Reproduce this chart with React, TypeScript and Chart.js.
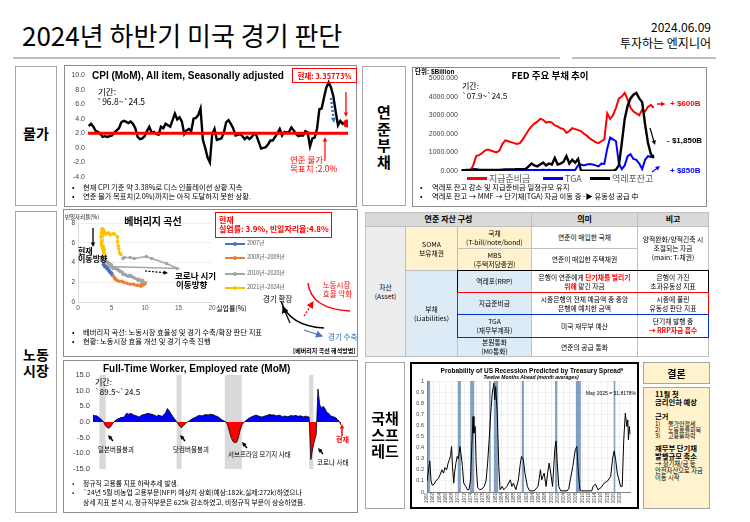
import React, { useEffect, useRef } from "react";
import { Chart, registerables } from "chart.js";

Chart.register(...registerables);

const KR = "'Noto Sans CJK KR', 'Noto Sans', sans-serif";
const AR = "'Liberation Sans', 'Noto Sans CJK KR', sans-serif";

// ---------------- DATA ----------------
// CPI YoY (%), quarterly from 1996 Q3
const cpiStartYear = 1996.625;
const cpiStep = 0.25;
const cpiValues = [
  3.0, 3.3,
  2.9, 2.3, 2.2, 1.9,
  1.5, 1.6, 1.5, 1.6,
  1.7, 2.1, 2.4, 2.7,
  3.5, 3.7, 3.6, 3.4,
  3.6, 3.3, 2.7, 1.5,
  1.2, 1.3, 1.6, 2.3,
  2.9, 2.1, 2.2, 1.9,
  1.8, 2.9, 2.7, 3.3,
  3.1, 2.9, 3.8, 4.7,
  3.9, 4.2, 3.6, 1.9,
  2.4, 2.6, 2.3, 4.0,
  4.1, 4.5, 5.4, 1.1,
  0.0, -1.3, -2.0, 1.8,
  2.6, 1.1, 1.2, 1.3,
  2.1, 3.5, 3.8, 3.3,
  2.7, 1.7, 1.8, 1.9,
  1.6, 1.2, 1.5, 1.2,
  1.5, 2.0, 1.7, 0.8,
  -0.1, 0.0, 0.1, 0.5,
  1.0, 1.0, 1.5, 2.0,
  2.6, 1.7, 2.2, 2.1,
  2.2, 2.8, 2.4, 1.9,
  1.6, 1.7, 1.7, 2.3,
  2.1, 0.2, 1.3, 1.4,
  2.6, 5.3, 5.4, 6.9,
  8.3, 9.0, 8.3, 7.1,
  5.0, 3.1, 3.7, 3.3,
  3.5, 3.36,
];
const cpiTarget = 2.0;

// FED liabilities ($B), quarterly from 2007 Q4
const fedStartYear = 2007.75;
const fedStep = 0.25;
const fedReserves = [
  15,
  15, 15, 15, 300,
  800, 850, 950, 1100,
  1150, 1100, 1050, 1000,
  1100, 1450, 1650, 1600,
  1550, 1500, 1450, 1500,
  1700, 1950, 2200, 2400,
  2550, 2650, 2800, 2750,
  2600, 2650, 2600, 2450,
  2400, 2300, 2250, 2050,
  2150, 2300, 2250, 2200,
  2150, 2000, 1900, 1750,
  1650, 1550, 1500, 1600,
  1700, 3100, 2800, 3000,
  3400, 3900, 4000, 4200,
  3850, 3400, 3200, 3100,
  3000, 3300, 3200, 3450,
  3550, 3400,
];
const fedTGA = [
  5,
  5, 5, 5, 100,
  100, 60, 40, 30,
  50, 40, 40, 50,
  50, 60, 40, 60,
  50, 50, 60, 50,
  40, 50, 60, 60,
  50, 60, 50, 70,
  60, 70, 60, 60,
  50, 60, 50, 60,
  50, 60, 60, 300,
  350, 300, 350, 380,
  350, 300, 250, 400,
  380, 1200, 1800, 1700,
  1600, 400, 100, 300,
  800, 900, 650, 600,
  400, 100, 600, 800,
  750, 850,
];
const fedRRP = [
  40,
  40, 50, 60, 80,
  70, 60, 60, 60,
  60, 60, 60, 60,
  60, 70, 80, 90,
  90, 90, 100, 100,
  100, 110, 250, 400,
  300, 250, 350, 450,
  300, 400, 350, 700,
  350, 400, 500, 800,
  400, 600, 450, 650,
  10, 10, 10, 10,
  10, 10, 10, 10,
  10, 10, 10, 10,
  80, 300, 1500, 2800,
  3500, 3900, 4100, 4200,
  3900, 3700, 2500, 1500,
  900, 700,
];

// Beveridge curve (unemployment %, job openings %)
const bev2007X = [3.8, 3.9, 4.0, 4.1, 4.2, 4.3, 4.4, 4.5, 4.6, 4.7, 4.8, 5.0];
const bev2007Y = [3.8, 3.7, 3.6, 3.6, 3.5, 3.4, 3.4, 3.3, 3.2, 3.1, 3.0, 2.9];
const bev0809X = [4.9, 5.0, 5.1, 5.3, 5.5, 5.6, 5.8, 6.1, 6.5, 6.8, 7.3, 7.8, 8.3, 8.7, 9.0, 9.4, 9.5, 9.5, 9.6, 9.8, 10.0, 9.9, 9.7, 9.8];
const bev0809Y = [3.0, 2.9, 2.7, 2.6, 2.4, 2.3, 2.2, 2.1, 2.1, 2.0, 1.9, 1.8, 1.8, 1.7, 1.7, 1.6, 1.7, 1.8, 1.7, 1.8, 1.9, 1.8, 1.9, 2.0];
const bev1020X = [9.8, 9.6, 9.5, 9.1, 9.0, 8.9, 8.5, 8.2, 8.0, 7.9, 7.7, 7.5, 7.2, 7.0, 6.7, 6.6, 6.3, 6.1, 5.9, 5.6, 5.4, 5.2, 5.0, 5.0, 4.9, 4.9, 4.7, 4.6, 4.4, 4.3, 4.1, 4.0, 3.9, 3.8, 3.7, 3.6, 3.6, 3.5, 3.5, 4.4, 14.8, 13.2, 11.0, 10.2, 8.4, 7.8, 6.9, 6.7];
const bev1020Y = [2.0, 2.2, 2.1, 2.3, 2.2, 2.3, 2.4, 2.5, 2.6, 2.6, 2.7, 2.6, 2.7, 2.8, 2.8, 3.0, 3.1, 3.2, 3.3, 3.4, 3.5, 3.4, 3.6, 3.7, 3.6, 3.8, 3.7, 3.9, 4.0, 4.1, 4.2, 4.3, 4.4, 4.5, 4.4, 4.5, 4.6, 4.4, 4.2, 3.6, 3.4, 3.9, 4.4, 4.6, 4.4, 4.5, 4.5, 4.4];
const bev2124X = [6.4, 6.2, 6.1, 6.0, 5.9, 5.9, 5.4, 5.2, 4.8, 4.6, 4.2, 3.9, 4.0, 3.8, 3.6, 3.6, 3.7, 3.5, 3.6, 3.4, 3.5, 3.6, 3.5, 3.7, 3.6, 3.5, 3.8, 3.8, 3.7, 3.9, 3.9, 3.8, 3.9, 4.0];
const bev2124Y = [4.8, 5.0, 5.4, 5.7, 6.1, 6.6, 6.9, 6.9, 6.8, 7.0, 6.9, 7.1, 7.0, 7.3, 7.4, 7.0, 6.8, 7.0, 6.7, 6.6, 6.1, 6.2, 6.0, 5.7, 5.6, 5.8, 5.6, 5.3, 5.4, 5.3, 5.2, 5.1, 4.9, 4.8];
const bevLabels = ["2007년", "2008년~2009년", "2010년~2020년", "2021년~2024년"];
const bevColors = ["#4472C4", "#ED7D31", "#A5A5A5", "#FFC000"];

// Full-time workers, YoY %, quarterly from 1989.5
const ftwStartYear = 1989.5;
const ftwStep = 0.25;
const ftwValues = [
  2.2, 2.0,
  2.0, 1.6, 1.2, 0.6,
  0.0, -1.2, -1.8, -2.0,
  -1.5, -0.6, 0.2, 0.6,
  1.0, 1.2, 1.5, 1.4,
  2.0, 2.8, 2.5, 2.7,
  2.6, 2.2, 2.1, 1.8,
  1.6, 2.0, 2.3, 2.4,
  2.6, 2.8, 2.6, 2.5,
  2.3, 2.1, 1.8, 2.2,
  2.0, 1.8, 2.3, 3.0,
  4.3, 3.6, 2.6, 1.8,
  1.0, 0.3, -0.6, -1.4,
  -1.8, -1.2, -0.6, -0.1,
  0.2, 0.6, 1.0, 1.3,
  1.5, 1.9, 2.1, 2.0,
  2.0, 2.3, 2.4, 2.2,
  2.5, 2.4, 2.3, 2.0,
  1.8, 1.5, 1.0, 0.6,
  0.3, 0.1, -1.0, -3.0,
  -5.0, -6.2, -6.6, -6.5,
  -5.2, -2.8, -1.0, -0.2,
  0.3, 0.8, 1.2, 1.5,
  1.8, 2.0, 2.2, 2.0,
  1.8, 1.6, 1.7, 1.9,
  2.1, 2.3, 2.4, 2.2,
  2.3, 2.1, 2.0, 2.2,
  2.0, 1.7, 1.9, 1.8,
  1.7, 1.9, 2.1, 1.9,
  2.1, 2.0, 1.8, 2.0,
  1.8, 1.6, 1.9, 1.7,
  1.6, -12.0, -8.5, -6.0,
  -4.0, 10.5, 5.5, 4.5,
  5.0, 4.2, 3.0, 2.8,
  2.0, 1.8, 1.6, 1.4,
  0.8, 0.2, -1.0,
];
const ftwBandStart = [1990.4, 2001.3, 2008.1, 2020.0];
const ftwBandEnd = [1991.3, 2002.0, 2010.5, 2020.6];

// Recession probability (12 months ahead)
const recYears = [
  1960.0, 1960.5, 1960.9, 1961.3, 1961.7, 1962.3, 1962.8, 1963.3, 1963.8, 1964.3,
  1964.8, 1965.3, 1965.8, 1966.3, 1966.8, 1967.2, 1967.6, 1967.9, 1968.2, 1968.6,
  1968.9, 1969.3, 1969.7, 1970.1, 1970.6, 1970.9, 1971.4, 1971.8, 1972.5, 1973.0,
  1973.5, 1974.0, 1974.4, 1974.8, 1975.1, 1975.5, 1975.8, 1976.3, 1977.0, 1977.8,
  1978.4, 1979.0, 1979.5, 1980.0, 1980.5, 1981.0, 1981.5, 1981.8, 1982.1, 1982.6,
  1983.1, 1983.5, 1984.2, 1984.7, 1985.7, 1986.8, 1987.3, 1987.8, 1988.6, 1989.4,
  1990.0, 1990.4, 1991.0, 1991.5, 1992.3, 1993.0, 1994.5, 1995.7, 1996.1, 1996.5,
  1996.9, 1997.7, 1998.3, 1998.8, 1999.3, 1999.8, 2000.4, 2001.1, 2001.5, 2001.9,
  2002.4, 2003.0, 2005.1, 2005.6, 2006.1, 2006.9, 2007.7, 2008.2, 2008.7, 2009.2,
  2009.8, 2013.0, 2013.4, 2014.2, 2015.0, 2016.0, 2017.0, 2018.1, 2019.1, 2019.7,
  2020.2, 2020.7, 2021.2, 2021.75, 2022.3, 2022.8, 2023.3, 2023.8, 2024.3, 2024.6,
  2024.8, 2025.1, 2025.4,
];
const recProb = [
  0.10, 0.20, 0.28, 0.10, 0.06, 0.07, 0.10, 0.11, 0.13, 0.16,
  0.20, 0.17, 0.22, 0.20, 0.26, 0.29, 0.33, 0.41, 0.23, 0.08,
  0.18, 0.26, 0.32, 0.30, 0.41, 0.35, 0.23, 0.08, 0.05, 0.02,
  0.02, 0.11, 0.40, 0.68, 0.53, 0.59, 0.26, 0.04, 0.02, 0.03,
  0.05, 0.10, 0.26, 0.47, 0.71, 0.89, 0.98, 0.83, 0.95, 0.71,
  0.23, 0.02, 0.05, 0.02, 0.05, 0.11, 0.05, 0.08, 0.02, 0.11,
  0.25, 0.32, 0.29, 0.17, 0.05, 0.01, 0.01, 0.05, 0.12, 0.20,
  0.11, 0.17, 0.05, 0.17, 0.26, 0.17, 0.05, 0.38, 0.46, 0.26,
  0.05, 0.01, 0.01, 0.03, 0.11, 0.23, 0.38, 0.41, 0.17, 0.02,
  0.01, 0.01, 0.05, 0.07, 0.02, 0.04, 0.08, 0.10, 0.14, 0.30,
  0.37, 0.29, 0.17, 0.11, 0.05, 0.05, 0.47, 0.71, 0.59, 0.65,
  0.47, 0.59, 0.52,
];
const recBandStart = [1960.25, 1969.9, 1973.9, 1980.0, 1981.5, 1990.5, 2001.2, 2007.9, 2020.1];
const recBandEnd = [1961.0, 1970.9, 1975.2, 1980.5, 1982.9, 1991.2, 2001.9, 2009.5, 2020.35];

// ---------------- HELPERS ----------------
const seq = (start: number, step: number, ys: number[]) => ys.map((y, i) => ({ x: start + i * step, y }));
const pairs = (xs: number[], ys: number[]) => ys.map((y, i) => ({ x: xs[i], y }));

type Arrow = { x1: number; y1: number; x2: number; y2: number; color: string; width?: number; dash?: number[]; head?: number };

function arrowPlugin(list: Arrow[]) {
  return {
    id: "arrows",
    afterDatasetsDraw(chart: any) {
      const { ctx, scales } = chart;
      list.forEach((a) => {
        const px1 = scales.x.getPixelForValue(a.x1);
        const py1 = scales.y.getPixelForValue(a.y1);
        const px2 = scales.x.getPixelForValue(a.x2);
        const py2 = scales.y.getPixelForValue(a.y2);
        const ang = Math.atan2(py2 - py1, px2 - px1);
        const h = a.head ?? 5;
        ctx.save();
        ctx.strokeStyle = a.color;
        ctx.fillStyle = a.color;
        ctx.lineWidth = a.width ?? 1.5;
        ctx.setLineDash(a.dash ?? []);
        ctx.beginPath();
        ctx.moveTo(px1, py1);
        ctx.lineTo(px2 - Math.cos(ang) * h * 0.7, py2 - Math.sin(ang) * h * 0.7);
        ctx.stroke();
        ctx.setLineDash([]);
        ctx.beginPath();
        ctx.moveTo(px2, py2);
        ctx.lineTo(px2 - h * Math.cos(ang - 0.45), py2 - h * Math.sin(ang - 0.45));
        ctx.lineTo(px2 - h * Math.cos(ang + 0.45), py2 - h * Math.sin(ang + 0.45));
        ctx.closePath();
        ctx.fill();
        ctx.restore();
      });
    },
  };
}

function bandPlugin(starts: number[], ends: number[], color: string) {
  return {
    id: "bands",
    beforeDatasetsDraw(chart: any) {
      const { ctx, chartArea, scales } = chart;
      ctx.save();
      ctx.fillStyle = color;
      starts.forEach((s, i) => {
        const a = scales.x.getPixelForValue(s);
        const b = scales.x.getPixelForValue(ends[i]);
        ctx.fillRect(a, chartArea.top, Math.max(1.5, b - a), chartArea.bottom - chartArea.top);
      });
      ctx.restore();
    },
  };
}

function hlinePlugin(value: number, color: string, width: number) {
  return {
    id: "hline",
    afterDatasetsDraw(chart: any) {
      const { ctx, chartArea, scales } = chart;
      const py = scales.y.getPixelForValue(value);
      ctx.save();
      ctx.strokeStyle = color;
      ctx.lineWidth = width;
      ctx.beginPath();
      ctx.moveTo(chartArea.left, py);
      ctx.lineTo(chartArea.right, py);
      ctx.stroke();
      ctx.restore();
    },
  };
}

function base(pad: any) {
  return {
    animation: false,
    responsive: true,
    maintainAspectRatio: false,
    events: [],
    layout: { padding: pad },
    plugins: { legend: { display: false }, tooltip: { enabled: false } },
  };
}

function yAxis(min: number, max: number, step: number, width: number, fmt: (v: number) => string, size: number, grid: any = { display: false, drawTicks: false }, border: any = { display: false }) {
  return {
    min,
    max,
    ticks: { stepSize: step, callback: (v: any) => fmt(Number(v)), font: { size, family: AR }, color: "#404040", padding: 3 },
    grid,
    border,
    afterFit: (s: any) => {
      s.width = width;
    },
  };
}

function ChartCanvas({ x, y, w, h, config }: any) {
  const ref = useRef<HTMLCanvasElement | null>(null);
  useEffect(() => {
    if (!ref.current) return;
    const chart = new Chart(ref.current, config());
    return () => chart.destroy();
  }, []);
  return (
    <div style={{ position: "absolute", left: x, top: y, width: w, height: h }}>
      <canvas ref={ref} />
    </div>
  );
}

function T({ x, y, s = 8, c = "#000", b = false, align = "left", font = KR, it = false, children }: any) {
  const st: any = {
    position: "absolute",
    top: y - s * 0.65,
    fontSize: s,
    lineHeight: `${s * 1.3}px`,
    color: c,
    fontWeight: b ? 700 : 400,
    fontFamily: font,
    fontStyle: it ? "italic" : "normal",
    whiteSpace: "nowrap",
  };
  if (align === "left") st.left = x;
  else if (align === "right") st.right = 750 - x;
  else {
    st.left = x;
    st.transform = "translateX(-50%)";
  }
  return <div style={st}>{children}</div>;
}

function Box({ x1, y1, x2, y2, border = "1px solid #8C8C8C", bg = "transparent", children, style }: any) {
  return (
    <div
      style={{
        position: "absolute",
        left: x1,
        top: y1,
        width: x2 - x1,
        height: y2 - y1,
        border,
        background: bg,
        boxSizing: "border-box",
        ...style,
      }}
    >
      {children}
    </div>
  );
}

function Cell({ x1, x2, y1, y2, bg = "#fff", b = false, s = 6.8, children }: any) {
  return (
    <div
      style={{
        position: "absolute",
        left: x1,
        top: y1,
        width: x2 - x1 + 1,
        height: y2 - y1 + 1,
        background: bg,
        border: "1px solid #BFBFBF",
        boxSizing: "border-box",
        display: "flex",
        alignItems: "center",
        justifyContent: "center",
        textAlign: "center",
        fontSize: s,
        lineHeight: `${s * 1.3}px`,
        fontWeight: b ? 700 : 400,
        fontFamily: KR,
        whiteSpace: "pre",
      }}
    >
      <div>{children}</div>
    </div>
  );
}

// ---------------- CHART CONFIGS ----------------
const cpiConfig = () => {
  const last = cpiValues.length - 1;
  return {
    type: "line",
    data: {
      datasets: [
        { data: [{ x: cpiStartYear + last * cpiStep, y: cpiValues[last] }], showLine: false, pointRadius: 4, pointBackgroundColor: "#FF0000", pointBorderWidth: 0, order: 0 },
        { data: seq(cpiStartYear, cpiStep, cpiValues), borderColor: "#000", borderWidth: 2.4, pointRadius: 0, tension: 0, order: 1 },
      ],
    },
    options: {
      ...base({ top: 9, right: 8, bottom: 29, left: 0 }),
      scales: {
        x: { type: "linear", display: false, min: 1996.55, max: 2024.45 },
        y: yAxis(-4, 10, 2, 23, (v) => v.toFixed(1), 7),
      },
    },
    plugins: [
      hlinePlugin(cpiTarget, "#FF0000", 3),
      arrowPlugin([
        { x1: 2022.63, y1: 6.84, x2: 2022.95, y2: 3.41, color: "#2E75B6", width: 2.5, dash: [2, 2], head: 6 },
        { x1: 2024.23, y1: 7.67, x2: 2024.23, y2: 4.24, color: "#FF0000", width: 1.3, head: 5 },
        { x1: 2021.98, y1: -1.8, x2: 2021.98, y2: 1.49, color: "#FF0000", width: 1.2, head: 5 },
      ]),
    ],
  };
};

const fedConfig = () => ({
  type: "line",
  data: {
    datasets: [
      { data: seq(fedStartYear, fedStep, fedRRP), borderColor: "#000", borderWidth: 2.4, pointRadius: 0, tension: 0, order: 0 },
      { data: seq(fedStartYear, fedStep, fedTGA), borderColor: "#0000FF", borderWidth: 2, pointRadius: 0, tension: 0, order: 1 },
      { data: seq(fedStartYear, fedStep, fedReserves), borderColor: "#FF0000", borderWidth: 2, pointRadius: 0, tension: 0, order: 2 },
    ],
  },
  options: {
    ...base({ top: 10, right: 51, bottom: 35, left: 0 }),
    scales: {
      x: { type: "linear", display: false, min: 2007.7, max: 2024.35 },
      y: yAxis(0, 5000, 1000, 48, (v) => v.toFixed(3), 7),
    },
  },
  plugins: [
    arrowPlugin([
      { x1: 2024.52, y1: 3602, x2: 2025.25, y2: 3602, color: "#FF0000", width: 1.5, head: 5 },
      { x1: 2023.92, y1: 2312, x2: 2024.35, y2: 1398, color: "#000", width: 1.2, head: 5 },
      { x1: 2024.1, y1: -54, x2: 2024.78, y2: 269, color: "#0000FF", width: 1.2, head: 5 },
    ]),
  ],
});

const bevConfig = () => {
  const ds = (xs: number[], ys: number[], i: number, order: number) => ({
    data: pairs(xs, ys),
    showLine: true,
    borderColor: bevColors[i],
    backgroundColor: bevColors[i],
    pointBackgroundColor: bevColors[i],
    pointBorderWidth: 0,
    pointRadius: 1.8,
    borderWidth: 1.5,
    tension: 0,
    order,
  });
  return {
    type: "line",
    data: {
      datasets: [ds(bev2124X, bev2124Y, 3, 0), ds(bev2007X, bev2007Y, 0, 1), ds(bev1020X, bev1020Y, 2, 2), ds(bev0809X, bev0809Y, 1, 3)],
    },
    options: {
      ...base({ top: 11, right: 12, bottom: 0, left: 0 }),
      scales: {
        x: {
          type: "linear",
          min: 0,
          max: 20,
          ticks: { stepSize: 5, font: { size: 6.5, family: AR }, color: "#595959", padding: 2 },
          grid: { display: false, drawTicks: false },
          border: { display: true, color: "#D9D9D9" },
          afterFit: (s: any) => {
            s.height = 16;
          },
        },
        y: yAxis(0, 8, 1, 14, (v) => String(v), 6.5, { display: true, drawTicks: false, color: "#F0F0F0" }, { display: true, color: "#D9D9D9" }),
      },
    },
    plugins: [
      arrowPlugin([
        { x1: 2.24, y1: 7.49, x2: 2.24, y2: 5.57, color: "#000", width: 1.3, head: 5 },
        { x1: 10.0, y1: 3.14, x2: 13.43, y2: 2.94, color: "#000", width: 1.2, dash: [2, 1.5], head: 5 },
      ]),
    ],
  };
};

const ftwConfig = () => ({
  type: "line",
  data: {
    datasets: [
      {
        data: seq(ftwStartYear, ftwStep, ftwValues),
        borderColor: "#000",
        borderWidth: 0.8,
        pointRadius: 0,
        tension: 0,
        fill: { target: "origin", above: "#0000FF", below: "#FF0000" },
      },
    ],
  },
  options: {
    ...base({ top: 14, right: 16, bottom: 43, left: 0 }),
    scales: {
      x: { type: "linear", display: false, min: 1989.5, max: 2024.5 },
      y: yAxis(-15, 15, 5, 29, (v) => v.toFixed(1), 7.5),
    },
  },
  plugins: [
    bandPlugin(ftwBandStart, ftwBandEnd, "#D9D9D9"),
    arrowPlugin([
      { x1: 1992.32, y1: -6.06, x2: 1991.62, y2: -4.15, color: "#000", width: 1.5, head: 5 },
      { x1: 2002.48, y1: -6.06, x2: 2001.78, y2: -4.15, color: "#000", width: 1.5, head: 5 },
      { x1: 2011.23, y1: -8.3, x2: 2010.53, y2: -6.38, color: "#000", width: 1.5, head: 5 },
      { x1: 2021.95, y1: -10.2, x2: 2021.25, y2: -8.3, color: "#000", width: 1.5, head: 5 },
      { x1: 2024.64, y1: -4.47, x2: 2024.64, y2: -0.64, color: "#FF0000", width: 1.5, head: 5 },
    ]),
  ],
});

const recConfig = () => ({
  type: "line",
  data: {
    datasets: [{ data: pairs(recYears, recProb), borderColor: "#000", borderWidth: 1, pointRadius: 0, tension: 0 }],
  },
  options: {
    ...base({ top: 17, right: 2, bottom: 2, left: 0 }),
    scales: {
      x: {
        type: "linear",
        min: 1960,
        max: 2025.5,
        ticks: {
          stepSize: 2,
          autoSkip: false,
          maxRotation: 90,
          minRotation: 90,
          font: { size: 4.5, family: AR },
          color: "#404040",
          padding: 1,
          callback: (v: any) => (Number.isInteger(Number(v)) ? String(v) : ""),
        },
        grid: { display: true, color: "#E6E6E6", lineWidth: 0.6, drawTicks: false },
        border: { display: true, color: "#808080" },
        afterFit: (s: any) => {
          s.height = 13;
        },
      },
      y: yAxis(0, 1, 0.1, 15, (v) => String(Math.round(v * 10) / 10), 5.5, { display: true, color: "#E6E6E6", lineWidth: 0.6, drawTicks: false }, { display: true, color: "#808080" }),
    },
  },
  plugins: [bandPlugin(recBandStart, recBandEnd, "rgba(85,125,172,0.72)")],
});

// ---------------- APP ----------------
export default function App() {
  const legendY = [244, 258, 274, 288];
  const red = "#FF0000";
  return (
    <div style={{ position: "absolute", left: 0, top: 0, width: 750, height: 522, background: "#fff", overflow: "hidden", fontFamily: KR }}>
      {/* Header */}
      <T x={22} y={35} s={26}>2024년 하반기 미국 경기 판단</T>
      <div style={{ position: "absolute", left: 13, top: 57, width: 547, height: 2, background: "#BFBFBF" }} />
      <div style={{ position: "absolute", left: 572, top: 57, width: 144, height: 2, background: "#BFBFBF" }} />
      <T x={711} y={27} s={12} align="right">2024.06.09</T>
      <T x={711} y={43} s={12} align="right">투자하는 엔지니어</T>

      {/* Left labels */}
      <Box x1={15} y1={66} x2={57} y2={206} border="1.5px solid #A6A6A6" />
      <T x={36} y={133} s={14} b align="center">물가</T>
      <Box x1={15} y1={211} x2={57} y2={513} border="1.5px solid #A6A6A6" />
      <div style={{ position: "absolute", left: 15, width: 42, top: 346, textAlign: "center", fontSize: 14, lineHeight: "16px", fontWeight: 700, fontFamily: KR }}>
        노동
        <br />
        시장
      </div>

      {/* CPI panel */}
      <Box x1={64} y1={65} x2={357} y2={207} />
      <ChartCanvas x={65} y={66} w={291} h={140} config={cpiConfig} />
      <T x={92} y={75} s={10} b font={AR}>CPI (MoM), All item, Seasonally adjusted</T>
      <Box x1={292} y1={68} x2={357} y2={83} border="1.5px solid #FF0000" />
      <T x={324.5} y={75.5} s={7.5} b c={red} align="center">현재: 3.35773%</T>
      <T x={98} y={92} s={8.5}>기간:</T>
      <T x={97} y={102} s={8.5}>`96.8~`24.5</T>
      <T x={290} y={160} s={8.5} c={red}>연준 물가</T>
      <T x={290} y={169} s={8.5} c={red}>목표치 :2.0%</T>
      <T x={72} y={188} s={7.3}>•</T>
      <T x={83} y={188} s={7.3}>현재 CPI 기준 약 3.38%로 디스 인플레이션 상황 지속</T>
      <T x={72} y={197} s={7.3}>•</T>
      <T x={83} y={197} s={7.3}>연준 물가 목표치(2.0%)까지는 아직 도달하지 못한 상황.</T>

      {/* Fed label */}
      <Box x1={362} y1={66} x2={406} y2={206} border="1.5px solid #A6A6A6" />
      <div style={{ position: "absolute", left: 362, width: 44, top: 104, textAlign: "center", fontSize: 15, lineHeight: "16.5px", fontWeight: 700, fontFamily: KR }}>
        연<br />준<br />부<br />채
      </div>

      {/* Fed panel */}
      <Box x1={412} y1={67} x2={707} y2={207} />
      <ChartCanvas x={413} y={68} w={293} h={138} config={fedConfig} />
      <T x={415} y={72} s={6.5} b font={AR}>단위: $Billion</T>
      <T x={550} y={75} s={9.5} b align="center">FED 주요 부채 추이</T>
      <T x={462} y={86} s={8}>기간:</T>
      <T x={462} y={96} s={8}>`07.9~`24.5</T>
      <T x={670} y={104} s={8} b c={red} font={AR}>+ $600B</T>
      <T x={667} y={141} s={8} b font={AR}>- $1,850B</T>
      <T x={670} y={171} s={8} b c="#0000FF" font={AR}>+ $850B</T>
      <div style={{ position: "absolute", left: 467, top: 177, width: 20, height: 3, background: red }} />
      <T x={489} y={178.5} s={9} c="#595959">지급준비금</T>
      <div style={{ position: "absolute", left: 543, top: 177, width: 20, height: 3, background: "#0000FF" }} />
      <T x={565} y={178.5} s={9} c="#595959">TGA</T>
      <div style={{ position: "absolute", left: 590, top: 177, width: 20, height: 3, background: "#000" }} />
      <T x={612} y={178.5} s={9} c="#595959">역레포잔고</T>
      <T x={420} y={188} s={7.3}>•</T>
      <T x={432} y={188} s={7.3}>역레포 잔고 감소 및 지급준비금 일정규모 유지</T>
      <T x={420} y={197} s={7.3}>•</T>
      <T x={432} y={197} s={7.3}>역레포 잔고 → MMF → 단기채(TGA) 자금 이동 중 -▶ 유동성 공급 中</T>

      {/* Beveridge panel */}
      <Box x1={63} y1={209} x2={358} y2={357} />
      <ChartCanvas x={64} y={212} w={160} h={106} config={bevConfig} />
      <T x={65} y={218} s={5.5}>빈일자리율(%)</T>
      <T x={153} y={220} s={10} b align="center">베버리지 곡선</T>
      <T x={216} y={309} s={7}>실업률(%)</T>
      <Box x1={215} y1={212} x2={332} y2={238} border="1.5px solid #FF0000" />
      <T x={219} y={220} s={8} b c={red}>현재</T>
      <T x={219} y={229.5} s={8} b c={red}>실업률: 3.9%, 빈일자리율:4.8%</T>
      {bevLabels.map((lab, i) => (
        <React.Fragment key={lab}>
          <div style={{ position: "absolute", left: 225, top: legendY[i] - 0.75, width: 20, height: 1.5, background: bevColors[i] }} />
          <div style={{ position: "absolute", left: 233, top: legendY[i] - 2, width: 4, height: 4, borderRadius: 2, background: bevColors[i] }} />
          <T x={247} y={legendY[i]} s={5.5} c="#595959">{lab}</T>
        </React.Fragment>
      ))}
      <T x={78} y={251} s={8} b>현재</T>
      <T x={78} y={259} s={8} b>이동방향</T>
      <T x={175} y={276} s={8.5} b>코로나 시기</T>
      <T x={176} y={285} s={8.5} b>이동방향</T>
      <svg style={{ position: "absolute", left: 0, top: 0 }} width={750} height={522}>
        <defs>
          <marker id="mk" markerWidth="6" markerHeight="6" refX="5" refY="3" orient="auto">
            <path d="M0,0 L6,3 L0,6 z" fill="#000" />
          </marker>
          <marker id="mr" markerWidth="6" markerHeight="6" refX="5" refY="3" orient="auto">
            <path d="M0,0 L6,3 L0,6 z" fill="#FF0000" />
          </marker>
          <marker id="mb" markerWidth="6" markerHeight="6" refX="5" refY="3" orient="auto">
            <path d="M0,0 L6,3 L0,6 z" fill="#4472C4" />
          </marker>
        </defs>
        <path d="M308,283 Q311,309 350,311" stroke="#FF0000" strokeWidth={1.5} fill="none" />
        <path d="M281,301 Q289,326 324,328" stroke="#000" strokeWidth={1.5} fill="none" />
        <path d="M290,323 L283,307" stroke="#000" strokeWidth={1.2} markerEnd="url(#mk)" />
        <path d="M304,316 L313,302" stroke="#FF0000" strokeWidth={1.2} strokeDasharray="2,1.5" markerEnd="url(#mr)" />
        <path d="M304,330 L322,336" stroke="#4472C4" strokeWidth={1.2} markerEnd="url(#mb)" />
      </svg>
      <T x={336.5} y={285} s={7.5} c={red} align="center">노동시장</T>
      <T x={337.5} y={294} s={7.5} c={red} align="center">효율 악화</T>
      <T x={263} y={299} s={7.5}>경기 확장</T>
      <T x={328} y={337} s={7.5} c="#2E75B6">경기 수축</T>
      <T x={293} y={351} s={6} b>[베버리지 곡선 해석방법]</T>
      <T x={72} y={333} s={7.3}>•</T>
      <T x={83} y={333} s={7.3}>베버리지 곡선: 노동시장 효율성 및 경기 수축/확장 판단 지표</T>
      <T x={72} y={342} s={7.3}>•</T>
      <T x={83} y={342} s={7.3}>현황: 노동시장 효율 개선 및 경기 수축 진행</T>

      {/* Table */}
      <Cell x1={365} x2={531} y1={212} y2={226} bg="#D9D9D9" b s={8}>연준 자산 구성</Cell>
      <Cell x1={531} x2={637} y1={212} y2={226} bg="#D9D9D9" b s={8}>의미</Cell>
      <Cell x1={637} x2={708} y1={212} y2={226} bg="#D9D9D9" b s={8}>비고</Cell>
      <Cell x1={365} x2={405} y1={226} y2={356} bg="#EDEDED">{"자산\n(Asset)"}</Cell>
      <Cell x1={405} x2={457} y1={226} y2={270} bg="#FFF2CC">{"SOMA\n보유채권"}</Cell>
      <Cell x1={405} x2={457} y1={270} y2={356} bg="#DDEBF7">{"부채\n(Liabilities)"}</Cell>
      <Cell x1={457} x2={531} y1={226} y2={248} bg="#FFF2CC">{"국채\n(T-bill/note/bond)"}</Cell>
      <Cell x1={457} x2={531} y1={248} y2={270} bg="#FFF2CC">{"MBS\n(주택저당증권)"}</Cell>
      <Cell x1={457} x2={531} y1={270} y2={292} bg="#DDEBF7">역레포(RRP)</Cell>
      <Cell x1={457} x2={531} y1={292} y2={314} bg="#DDEBF7">지급준비금</Cell>
      <Cell x1={457} x2={531} y1={314} y2={337} bg="#DDEBF7">{"TGA\n(재무부계좌)"}</Cell>
      <Cell x1={457} x2={531} y1={337} y2={356} bg="#DDEBF7">{"본원통화\n(M0통화)"}</Cell>
      <Cell x1={531} x2={637} y1={226} y2={248}>연준이 매입한 국채</Cell>
      <Cell x1={531} x2={637} y1={248} y2={270}>연준이 매입한 주택채권</Cell>
      <Cell x1={531} x2={637} y1={270} y2={292}>
        은행이 연준에게 <span style={{ color: red, fontWeight: 700 }}>단기채를 빌리기</span>
        {"\n"}
        <span style={{ color: red, fontWeight: 700 }}>위해</span> 맡긴 자금
      </Cell>
      <Cell x1={531} x2={637} y1={292} y2={314}>{"시중은행의 전체 예금액 중 중앙\n은행에 예치한 금액"}</Cell>
      <Cell x1={531} x2={637} y1={314} y2={337}>미국 재무부 예산</Cell>
      <Cell x1={531} x2={637} y1={337} y2={356}>연준의 공급 통화</Cell>
      <Cell x1={637} x2={708} y1={226} y2={270}>{"양적완화/양적긴축 시\n조절되는 자금\n(main: T-채권)"}</Cell>
      <Cell x1={637} x2={708} y1={270} y2={292}>{"은행이 가진\n초과유동성 지표"}</Cell>
      <Cell x1={637} x2={708} y1={292} y2={314}>{"시중에 풀린\n유동성 판단 지표"}</Cell>
      <Cell x1={637} x2={708} y1={314} y2={337}>
        {"단기채 발행 중\n"}
        <span style={{ color: red, fontWeight: 700 }}>→ RRP자금 흡수</span>
      </Cell>
      <Cell x1={637} x2={708} y1={337} y2={356}>{""}</Cell>
      <Box x1={457} y1={270} x2={709} y2={293} border="1.5px solid #000" />
      <Box x1={457} y1={292} x2={709} y2={315} border="1.5px solid #FF0000" />
      <Box x1={457} y1={314} x2={709} y2={338} border="1.5px solid #0033CC" />

      {/* Full-time worker panel */}
      <Box x1={63} y1={360} x2={358} y2={513} />
      <ChartCanvas x={64} y={361} w={293} h={151} config={ftwConfig} />
      <T x={103} y={368} s={10} b font={AR}>Full-Time Worker, Employed rate (MoM)</T>
      <T x={95} y={382} s={8}>기간:</T>
      <T x={95} y={392} s={8}>`89.5~`24.5</T>
      <T x={98} y={449} s={6.5}>일본버블붕괴</T>
      <T x={173} y={449} s={6.5}>닷컴버블붕괴</T>
      <T x={228} y={454} s={6.5}>서브프라임 모기지 사태</T>
      <T x={317} y={462} s={6.5}>코로나 사태</T>
      <T x={336} y={440} s={7} b c={red}>현재</T>
      <T x={72} y={483} s={6.8}>•</T>
      <T x={83} y={483} s={6.8}>정규직 고용률 지표 하락추세 발생.</T>
      <T x={72} y={492} s={6.8}>•</T>
      <T x={83} y={492} s={6.8}>`24년 5월 비농업 고용부문(NFP) 예상치 상회(예상:182k,실제:272k)하였으나</T>
      <T x={83} y={502} s={6.8}>상세 지표 분석 시, 정규직부문은 625k 감소하였고, 비정규직 부문이 상승하였음.</T>

      {/* Treasury spread label */}
      <Box x1={365} y1={362} x2={405} y2={509} border="1.5px solid #A6A6A6" />
      <div style={{ position: "absolute", left: 365, width: 40, top: 410, textAlign: "center", fontSize: 15, lineHeight: "16.5px", fontWeight: 700, fontFamily: KR }}>
        국채
        <br />
        스프
        <br />
        레드
      </div>

      {/* Recession probability panel */}
      <Box x1={410} y1={362} x2={639} y2={509} border="2px solid #000" />
      <ChartCanvas x={412} y={364} w={225} h={143} config={recConfig} />
      <T x={532} y={371} s={6.5} b font={AR} align="center">Probability of US Recession Predicted by Treasury Spread*</T>
      <T x={531} y={377.5} s={5} b it font={AR} align="center">Twelve Months Ahead (month averages)</T>
      <T x={636} y={393} s={5} font={AR} align="right">May 2025 = 51.8178%</T>

      {/* Conclusion */}
      <Box x1={643} y1={362} x2={710} y2={384} border="1.5px solid #A6A6A6" bg="#FFF2CC" />
      <T x={676.5} y={373} s={10} b align="center">결론</T>
      <Box x1={643} y1={387} x2={710} y2={509} border="1.5px solid #A6A6A6" bg="#FFF2CC" />
      <T x={655} y={395} s={7.3} b>11월 첫</T>
      <T x={655} y={403} s={7.3} b>금리인하 예상</T>
      <T x={655} y={417} s={7.3} b>근거</T>
      <T x={655} y={423.5} s={6}>1)</T>
      <T x={668} y={423.5} s={6}>물가안정세</T>
      <T x={655} y={429.5} s={6}>2)</T>
      <T x={668} y={429.5} s={6}>노동효율회복</T>
      <T x={655} y={435.5} s={6}>3)</T>
      <T x={668} y={435.5} s={6}>고용률하락</T>
      <T x={655} y={449} s={7.3} b>재무부 단기채</T>
      <T x={655} y={457} s={7.3} b>발행규모 축소</T>
      <T x={655} y={464} s={6.3}>→ 장기채/금 등</T>
      <T x={655} y={471} s={6.3}>안전자산으로 자금</T>
      <T x={655} y={478} s={6.3}>이동 시작</T>
    </div>
  );
}
